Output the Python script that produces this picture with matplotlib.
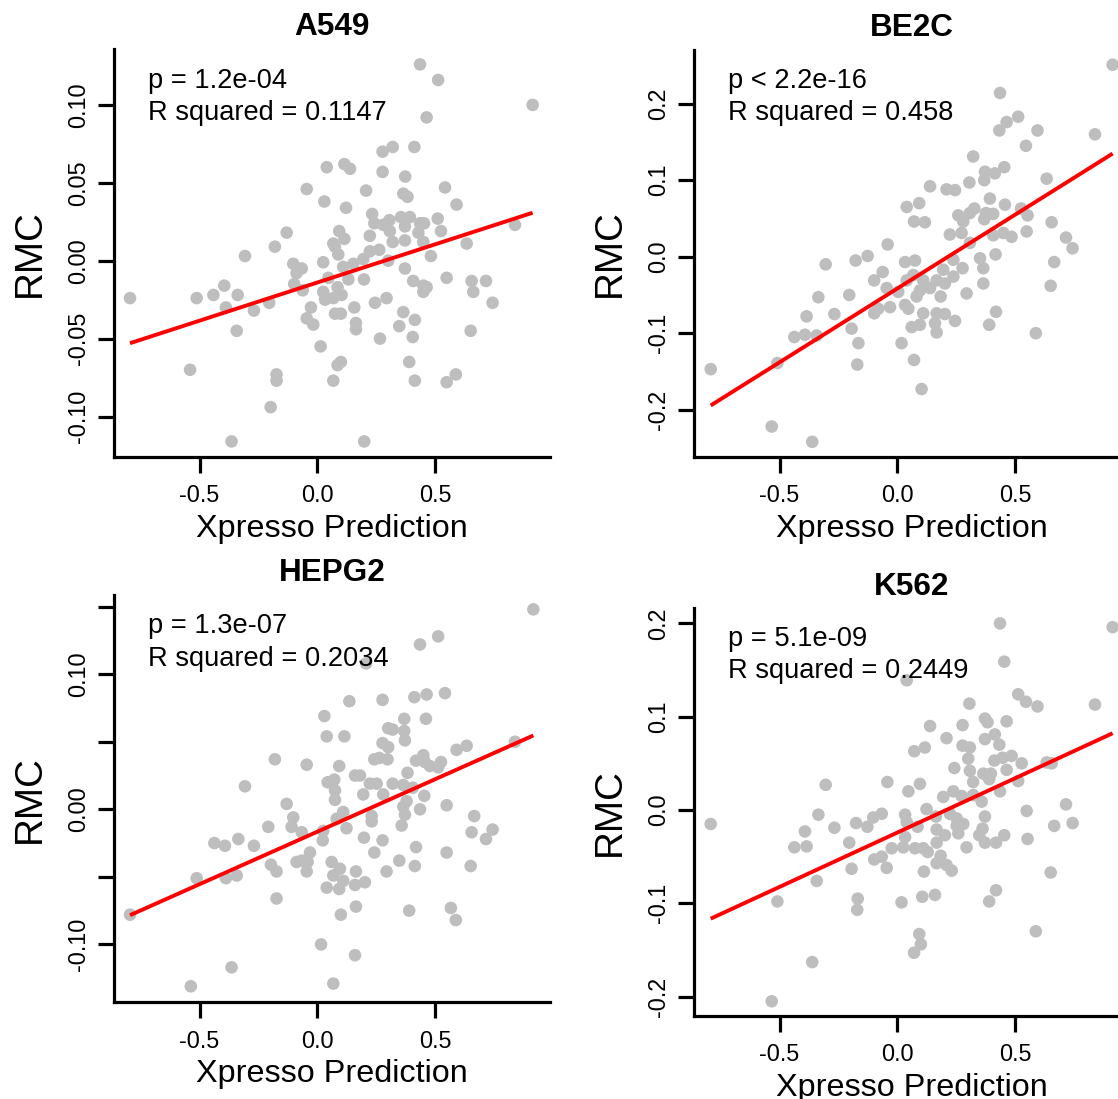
import numpy as np
import matplotlib.pyplot as plt

plt.rcParams['font.family'] = ['Liberation Sans', 'DejaVu Sans']

# panel titles and regression summaries
cell_lines = ['A549', 'BE2C', 'HEPG2', 'K562']
p_labels = ['p = 1.2e-04', 'p < 2.2e-16', 'p = 1.3e-07', 'p = 5.1e-09']
r2_labels = ['R squared = 0.1147', 'R squared = 0.458', 'R squared = 0.2034', 'R squared = 0.2449']
fit_slope = [0.049, 0.193, 0.0777, 0.1165]
fit_intercept = [-0.014, -0.0416, -0.0166, -0.0242]

# (Xpresso prediction, RMC)
a549 = [(0.436, 0.126), (0.513, 0.116), (0.914, 0.100), (0.464, 0.092), (0.320, 0.073), (0.277, 0.070),
        (0.412, 0.073), (0.040, 0.060), (0.115, 0.062), (0.139, 0.059), (0.277, 0.057), (0.373, 0.054),
        (-0.045, 0.046), (0.207, 0.045), (0.542, 0.047), (0.365, 0.043), (0.383, 0.041), (0.030, 0.038),
        (0.122, 0.034), (0.591, 0.036), (0.233, 0.030), (0.355, 0.028), (0.393, 0.028), (0.306, 0.026),
        (0.436, 0.024), (0.511, 0.027), (0.242, 0.024), (0.280, 0.023), (0.372, 0.022), (0.453, 0.024),
        (0.839, 0.023), (-0.130, 0.018), (0.093, 0.019), (0.308, 0.019), (0.429, 0.018), (0.525, 0.019),
        (0.223, 0.016), (0.115, 0.014), (0.068, 0.011), (0.320, 0.012), (0.372, 0.013), (0.450, 0.012),
        (-0.180, 0.009), (0.075, 0.009), (0.634, 0.011), (0.263, 0.007), (0.223, 0.006), (0.089, 0.004),
        (-0.307, 0.003), (0.482, 0.003), (-0.102, -0.002), (0.025, -0.001), (0.195, 0.001), (0.153, -0.002),
        (0.301, 0.000), (0.110, -0.004), (-0.066, -0.005), (0.372, -0.005), (-0.088, -0.008), (0.047, -0.011),
        (0.132, -0.012), (0.198, -0.012), (0.549, -0.011), (-0.395, -0.016), (-0.098, -0.015), (0.407, -0.013),
        (0.655, -0.013), (0.716, -0.013), (-0.062, -0.019), (0.025, -0.020), (0.086, -0.017), (0.450, -0.016),
        (0.464, -0.017), (-0.512, -0.024), (-0.441, -0.022), (-0.338, -0.022), (-0.795, -0.024), (0.033, -0.025),
        (0.068, -0.024), (0.103, -0.022), (0.294, -0.024), (0.662, -0.020), (0.450, -0.020), (-0.204, -0.027),
        (0.245, -0.027), (0.744, -0.027), (-0.388, -0.030), (-0.027, -0.030), (0.157, -0.030), (-0.269, -0.032),
        (0.075, -0.034), (0.100, -0.034), (0.365, -0.033), (-0.045, -0.037), (-0.017, -0.041), (0.164, -0.040),
        (0.414, -0.038), (-0.342, -0.045), (0.164, -0.044), (0.348, -0.042), (0.651, -0.045), (0.266, -0.050),
        (0.405, -0.049), (0.014, -0.055), (0.100, -0.065), (0.086, -0.067), (0.390, -0.065), (-0.173, -0.073),
        (-0.173, -0.077), (-0.540, -0.070), (0.588, -0.073), (0.068, -0.077), (0.414, -0.077), (0.549, -0.078),
        (-0.198, -0.094), (-0.364, -0.116), (0.199, -0.116)]

be2c = [(0.914, 0.251), (0.436, 0.214), (0.513, 0.183), (0.464, 0.176), (0.433, 0.165), (0.595, 0.165),
        (0.839, 0.160), (0.546, 0.145), (0.322, 0.131), (0.372, 0.111), (0.414, 0.109), (0.454, 0.117),
        (0.634, 0.102), (0.369, 0.100), (0.306, 0.097), (0.139, 0.092), (0.209, 0.088), (0.245, 0.087),
        (0.393, 0.076), (0.093, 0.070), (0.040, 0.065), (0.457, 0.068), (0.327, 0.063), (0.525, 0.063),
        (0.259, 0.054), (0.308, 0.057), (0.376, 0.057), (0.407, 0.056), (0.553, 0.054), (0.369, 0.049),
        (0.071, 0.046), (0.117, 0.045), (0.280, 0.046), (0.655, 0.045), (0.223, 0.029), (0.273, 0.031),
        (0.308, 0.018), (0.407, 0.028), (0.450, 0.031), (0.485, 0.026), (0.549, 0.033), (0.716, 0.025),
        (0.744, 0.011), (-0.041, 0.016), (-0.126, 0.001), (-0.177, -0.005), (-0.304, -0.010), (0.033, -0.007),
        (0.075, -0.005), (0.417, 0.003), (0.351, -0.002), (0.238, -0.004), (0.666, -0.007), (0.365, -0.015),
        (0.277, -0.015), (0.195, -0.017), (-0.062, -0.020), (-0.098, -0.031), (0.068, -0.024), (0.040, -0.031),
        (0.110, -0.031), (0.167, -0.031), (0.238, -0.026), (0.202, -0.035), (0.365, -0.035), (-0.045, -0.041),
        (0.096, -0.044), (0.139, -0.041), (0.004, -0.046), (-0.204, -0.050), (-0.335, -0.053), (0.082, -0.052),
        (0.184, -0.052), (0.294, -0.048), (0.651, -0.038), (-0.031, -0.066), (0.033, -0.063), (0.047, -0.068),
        (-0.081, -0.068), (-0.098, -0.074), (-0.267, -0.075), (-0.385, -0.078), (0.110, -0.074), (0.167, -0.074),
        (0.202, -0.075), (0.419, -0.072), (0.245, -0.084), (0.160, -0.087), (0.096, -0.089), (0.061, -0.092),
        (-0.194, -0.094), (0.167, -0.099), (0.390, -0.089), (0.588, -0.100), (-0.437, -0.105), (-0.392, -0.102),
        (-0.342, -0.103), (-0.165, -0.113), (0.018, -0.113), (0.071, -0.135), (-0.509, -0.139), (-0.170, -0.141),
        (-0.792, -0.147), (0.103, -0.173), (-0.533, -0.222), (-0.361, -0.242)]

hepg2 = [(0.917, 0.148), (0.513, 0.128), (0.436, 0.122), (0.207, 0.108), (0.542, 0.086), (0.464, 0.085),
         (0.412, 0.083), (0.136, 0.080), (0.277, 0.081), (0.030, 0.069), (0.369, 0.067), (0.461, 0.067),
         (0.301, 0.060), (0.320, 0.059), (0.369, 0.058), (0.040, 0.054), (0.115, 0.054), (0.372, 0.051),
         (0.277, 0.049), (0.301, 0.046), (0.634, 0.047), (0.591, 0.044), (0.839, 0.050), (-0.180, 0.037),
         (0.242, 0.037), (0.263, 0.038), (0.298, 0.037), (-0.045, 0.033), (0.093, 0.032), (0.419, 0.036),
         (0.450, 0.040), (0.457, 0.035), (0.478, 0.032), (0.525, 0.035), (0.513, 0.031), (0.383, 0.027),
         (0.160, 0.025), (0.181, 0.025), (0.044, 0.020), (0.072, 0.022), (0.223, 0.019), (0.252, 0.019),
         (0.320, 0.019), (0.365, 0.018), (0.405, 0.016), (-0.307, 0.017), (0.195, 0.011), (0.075, 0.014),
         (0.075, 0.007), (0.280, 0.011), (0.454, 0.010), (0.379, 0.006), (0.365, 0.002), (0.436, 0.000),
         (0.549, 0.003), (-0.130, 0.004), (0.110, -0.002), (0.082, -0.007), (0.231, -0.005), (0.231, -0.009),
         (0.372, -0.004), (0.358, -0.012), (-0.102, -0.006), (-0.208, -0.013), (-0.109, -0.013), (-0.066, -0.017),
         (0.124, -0.014), (0.025, -0.016), (0.666, -0.005), (0.655, -0.017), (0.744, -0.015), (0.716, -0.022),
         (-0.437, -0.025), (-0.392, -0.027), (-0.335, -0.022), (-0.269, -0.027), (0.023, -0.023), (0.198, -0.021),
         (0.277, -0.023), (0.242, -0.032), (0.419, -0.028), (0.549, -0.032), (-0.031, -0.032), (-0.041, -0.039),
         (-0.088, -0.039), (-0.066, -0.038), (0.061, -0.039), (-0.197, -0.041), (-0.173, -0.046), (-0.045, -0.046),
         (0.096, -0.044), (0.164, -0.046), (0.348, -0.038), (0.414, -0.042), (0.651, -0.042), (0.294, -0.046),
         (-0.512, -0.051), (-0.388, -0.051), (-0.342, -0.049), (0.068, -0.049), (0.110, -0.053), (0.160, -0.056),
         (0.202, -0.054), (0.040, -0.058), (0.093, -0.059), (-0.173, -0.066), (0.164, -0.072), (0.100, -0.078),
         (0.390, -0.075), (0.567, -0.073), (0.588, -0.082), (-0.795, -0.078), (0.016, -0.100), (0.160, -0.108),
         (-0.364, -0.117), (-0.537, -0.131), (0.068, -0.129)]

k562 = [(0.436, 0.200), (0.914, 0.196), (0.454, 0.159), (0.040, 0.139), (0.513, 0.124), (0.546, 0.116),
        (0.595, 0.111), (0.839, 0.113), (0.306, 0.114), (0.372, 0.098), (0.383, 0.094), (0.464, 0.095),
        (0.139, 0.090), (0.277, 0.091), (0.414, 0.081), (0.209, 0.077), (0.372, 0.076), (0.433, 0.070),
        (0.277, 0.069), (0.308, 0.067), (0.072, 0.063), (0.117, 0.067), (0.301, 0.055), (0.485, 0.058),
        (0.412, 0.053), (0.447, 0.056), (0.242, 0.045), (0.308, 0.042), (0.365, 0.039), (0.397, 0.039),
        (0.464, 0.043), (0.528, 0.050), (0.634, 0.051), (0.655, 0.050), (0.390, 0.033), (0.513, 0.031),
        (0.322, 0.030), (-0.042, 0.030), (0.096, 0.028), (0.047, 0.020), (0.436, 0.020), (0.238, 0.020),
        (0.195, 0.014), (0.273, 0.015), (0.322, 0.016), (0.358, 0.009), (0.716, 0.006), (-0.304, 0.027),
        (-0.066, -0.004), (-0.102, -0.008), (0.033, -0.005), (0.124, 0.001), (0.164, -0.007), (0.223, -0.004),
        (0.252, -0.009), (0.372, -0.007), (0.549, -0.001), (-0.335, -0.005), (-0.175, -0.014), (-0.127, -0.018),
        (-0.267, -0.019), (0.086, -0.018), (0.040, -0.013), (0.252, -0.017), (0.280, -0.015), (0.259, -0.025),
        (0.167, -0.021), (0.202, -0.027), (0.362, -0.020), (0.348, -0.027), (0.666, -0.017), (0.744, -0.014),
        (-0.792, -0.015), (-0.392, -0.023), (-0.385, -0.039), (-0.437, -0.040), (-0.204, -0.035), (0.033, -0.029),
        (0.167, -0.035), (0.372, -0.035), (0.419, -0.035), (0.454, -0.027), (0.553, -0.031), (0.294, -0.040),
        (-0.024, -0.041), (0.025, -0.040), (0.075, -0.041), (0.110, -0.041), (0.129, -0.045), (-0.098, -0.053),
        (-0.066, -0.050), (0.184, -0.049), (0.167, -0.057), (0.209, -0.059), (0.231, -0.065), (-0.045, -0.062),
        (0.113, -0.066), (-0.194, -0.063), (-0.342, -0.076), (0.651, -0.067), (0.419, -0.086), (0.390, -0.098),
        (-0.509, -0.098), (-0.168, -0.095), (-0.170, -0.107), (0.018, -0.099), (0.106, -0.093), (0.160, -0.091),
        (0.093, -0.133), (0.100, -0.144), (0.071, -0.153), (0.588, -0.130), (-0.361, -0.163), (-0.533, -0.205)]

panel_points = [a549, be2c, hepg2, k562]

x_ticks = [-0.5, 0.0, 0.5]
x_tick_labels = ['-0.5', '0.0', '0.5']
y_ticks = [[-0.10, -0.05, 0.0, 0.05, 0.10],
           [-0.2, -0.1, 0.0, 0.1, 0.2],
           [-0.10, -0.05, 0.0, 0.05, 0.10, 0.15],
           [-0.2, -0.1, 0.0, 0.1, 0.2]]
y_tick_labels = [['-0.10', '-0.05', '0.00', '0.05', '0.10'],
                 ['-0.2', '-0.1', '0.0', '0.1', '0.2'],
                 ['-0.10', '', '0.00', '', '0.10', ''],
                 ['-0.2', '-0.1', '0.0', '0.1', '0.2']]

# layout, in pixels of the 1118x1099 canvas
W, H = 1118, 1099
x_zero_px = [317.3, 897.3, 317.3, 897.3]
y_zero_px = [260.7, 256.7, 809.3, 810.0]
x_px_per_unit = 235.6
y_px_per_unit = [1558, 765, 1351, 933]
xlim = (-0.864, 0.988)
ylims = [(-0.1259, 0.1357), (-0.2618, 0.2702), (-0.1429, 0.1587), (-0.2204, 0.216)]

fig = plt.figure(figsize=(W / 100, H / 100), dpi=100)

for i in range(4):
    left = x_zero_px[i] + xlim[0] * x_px_per_unit
    right = x_zero_px[i] + xlim[1] * x_px_per_unit
    top = y_zero_px[i] - ylims[i][1] * y_px_per_unit[i]
    bottom = y_zero_px[i] - ylims[i][0] * y_px_per_unit[i]
    ax = fig.add_axes([left / W, 1 - bottom / H, (right - left) / W, (bottom - top) / H])

    pts = np.array(panel_points[i])
    x, y = pts[:, 0], pts[:, 1]
    ax.scatter(x, y, s=82, color='#BEBEBE', edgecolors='none', zorder=2)

    xl = np.array([x.min(), x.max()])
    ax.plot(xl, fit_intercept[i] + fit_slope[i] * xl, color='red', lw=2.8, zorder=3,
            solid_capstyle='butt')

    ax.set_xlim(xlim)
    ax.set_ylim(ylims[i])
    ax.set_xticks(x_ticks)
    ax.set_xticklabels(x_tick_labels)
    ax.set_yticks(y_ticks[i])
    ax.set_yticklabels(y_tick_labels[i])

    for side in ['top', 'right']:
        ax.spines[side].set_visible(False)
    for side in ['left', 'bottom']:
        ax.spines[side].set_linewidth(2.3)
    ax.tick_params(width=2.3, length=11.5, labelsize=16.8)
    ax.tick_params(axis='x', pad=8.2)
    ax.tick_params(axis='y', pad=5.5, labelrotation=90)
    for lab in ax.get_yticklabels():
        lab.set_va('center')

    ax.set_title(cell_lines[i], fontsize=22.7, fontweight='bold', pad=10)
    ax.annotate('Xpresso Prediction', xy=(0.5, 0), xycoords='axes fraction',
                xytext=(0, -80), textcoords='offset pixels',
                ha='center', va='baseline', fontsize=23.3)
    ax.annotate('RMC', xy=(0, 0.5), xycoords='axes fraction',
                xytext=(-84, 0), textcoords='offset pixels',
                ha='center', va='center', rotation=90, fontsize=27.8)

    # stats text, placed in data space like the original
    ty = 0.88 * y.max()
    ax.annotate(p_labels[i], xy=(-0.72, ty), xycoords='data',
                ha='left', va='baseline', fontsize=19.6)
    ax.annotate(r2_labels[i], xy=(-0.72, ty), xycoords='data',
                xytext=(0, -32.4), textcoords='offset pixels',
                ha='left', va='baseline', fontsize=19.6)

fig.savefig('out.png', dpi=100)
